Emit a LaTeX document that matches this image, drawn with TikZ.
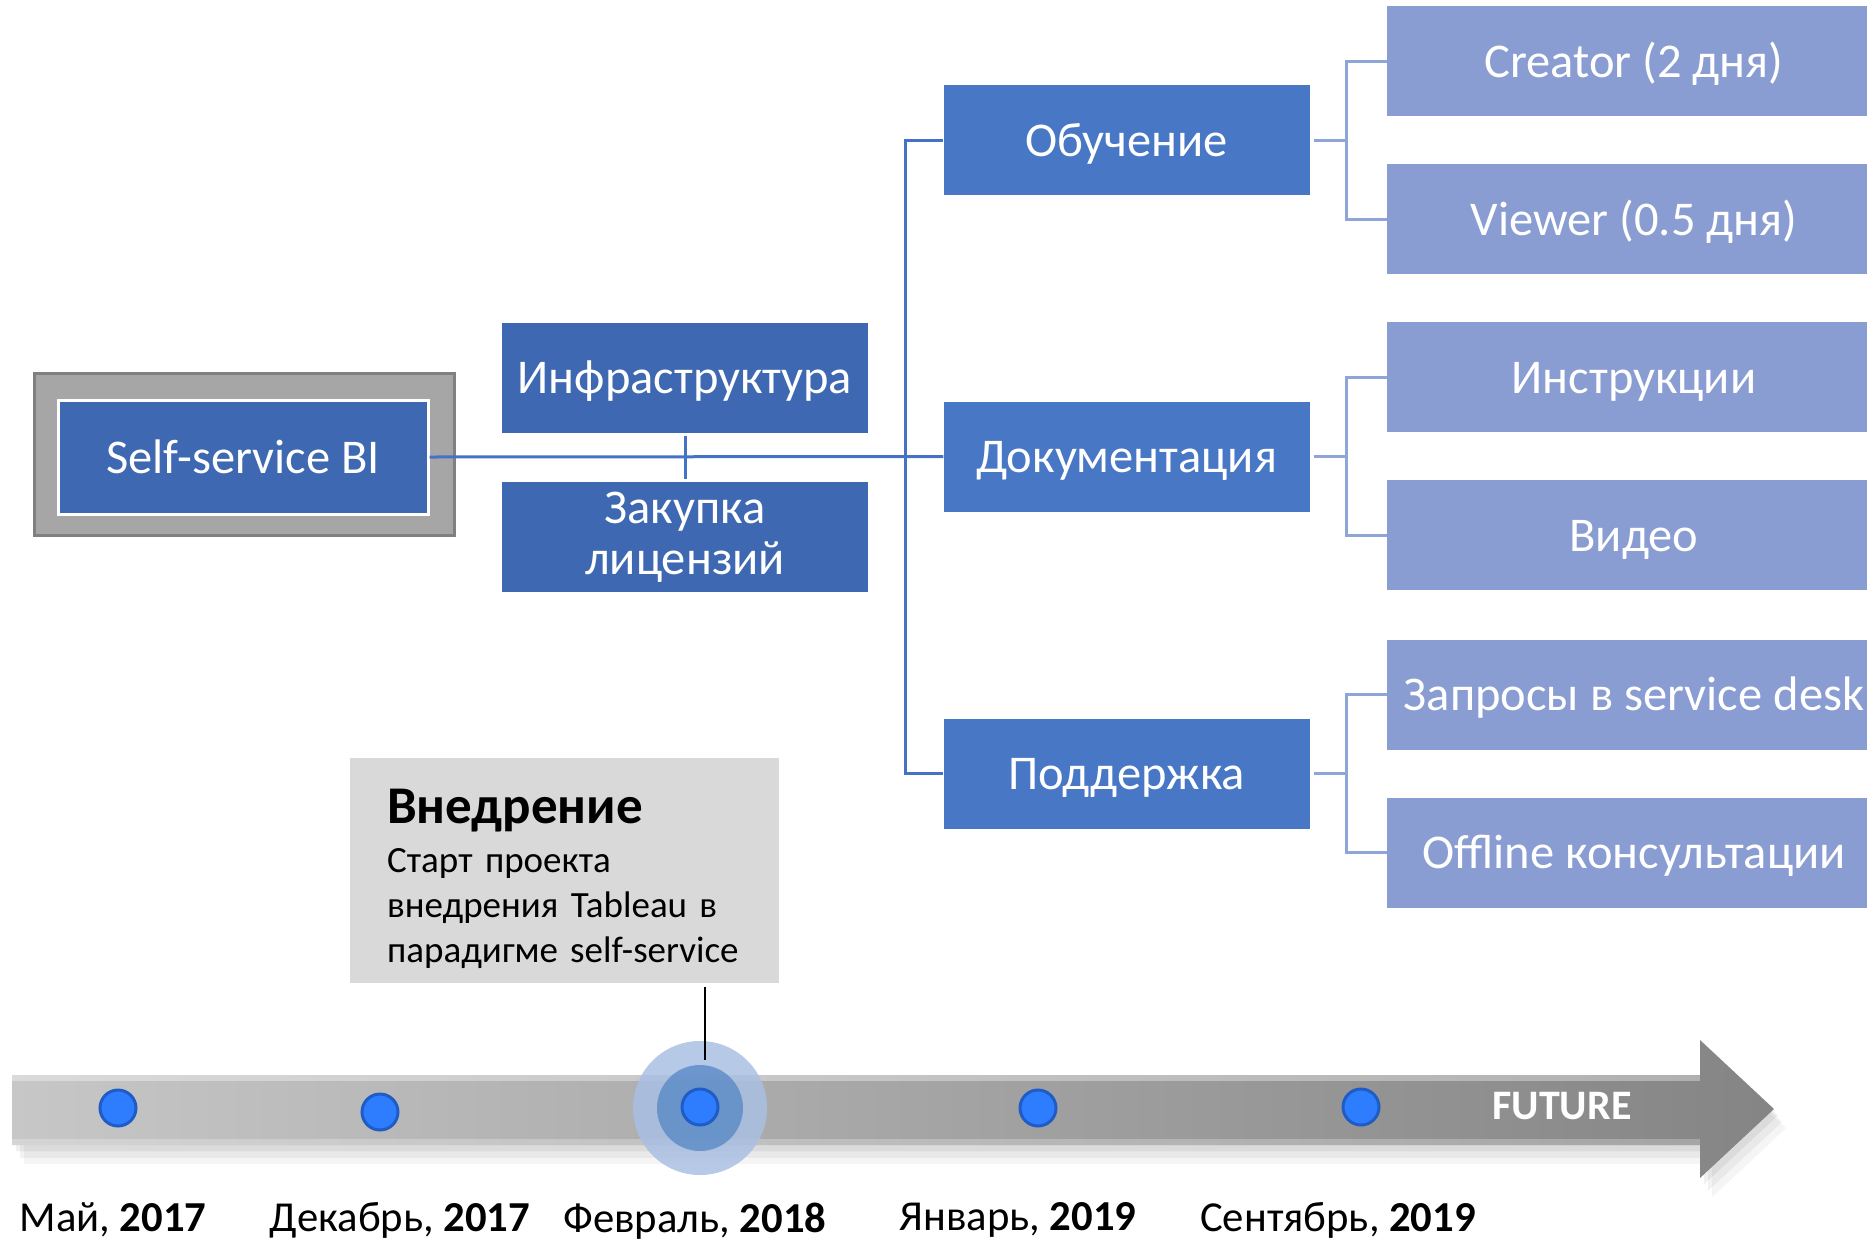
\documentclass[tikz,border=0pt]{standalone}
\usepackage{fontspec}
\setmainfont{Carlito}
\usepackage{tikz}
\usetikzlibrary{calc,positioning}

\definecolor{darkbox}{HTML}{3E68B1}
\definecolor{midbox}{HTML}{4877C5}
\definecolor{leafbox}{HTML}{8A9DD2}
\definecolor{trunkline}{HTML}{4472C4}
\definecolor{leafline}{HTML}{8EA5DA}
\definecolor{dotblue}{HTML}{2F7DFF}
\definecolor{dotring}{HTML}{1F5CC6}
\definecolor{calloutgray}{HTML}{D9D9D9}
\definecolor{haloouter}{HTML}{A9BFE3}
\definecolor{haloinner}{HTML}{5A8AC6}

\begin{document}
\begin{tikzpicture}[x=1pt,y=-1pt,
    dark/.style={fill=darkbox,text=white,minimum width=366pt,minimum height=110pt,inner sep=0pt,align=center,font=\fontsize{48.5}{51}\selectfont},
    oneline/.style={text height=38pt,text depth=6pt},
    mid/.style={fill=midbox,text=white,minimum width=366pt,minimum height=110pt,inner sep=0pt,oneline,font=\fontsize{48.5}{56}\selectfont},
    leaf/.style={fill=leafbox,text=white,minimum width=494pt,minimum height=110pt,inner sep=0pt,oneline,font=\fontsize{48.5}{56}\selectfont},
    link/.style={trunkline,line width=3pt},
    leaflink/.style={leafline,line width=3pt},
    dot/.style={circle,fill=dotblue,draw=dotring,line width=3pt,minimum size=36pt,inner sep=0pt},
    date/.style={font=\fontsize{42.7}{50}\selectfont}]
            \useasboundingbox (0,0) rectangle (1867,1242);
            \node[fill=black!35,draw=black!50,line width=3pt,minimum width=420pt,minimum height=162pt] (frame) at (244,454) {};
            \node[dark,oneline,draw=white,line width=3pt,minimum width=370pt,minimum height=114pt] (self) at (243,457) {Self-service BI};
            \node[dark,oneline] (infra) at (685,377.5) {Инфраструктура};
            \node[dark] (zakup) at (685,537) {Закупка\\лицензий};
            \node[mid] (obuch) at (1126.5,140) {Обучение};
            \node[mid] (dok) at (1126.5,456.5) {Документация};
            \node[mid] (podd) at (1126.5,773.5) {Поддержка};
            \node[leaf] (creator) at (1634,61) {Creator (2 дня)};
            \node[leaf] (viewer) at (1634,219) {Viewer (0.5 дня)};
            \node[leaf] (instr) at (1634,377) {Инструкции};
            \node[leaf] (video) at (1634,535) {Видео};
            \node[leaf] (zapros) at (1634,694.5) {Запросы в service desk};
            \node[leaf] (offline) at (1634,852.5) {Offline консультации};
            \draw[link] (self.east) -- (dok.west);
            \draw[link,shorten <=3pt,shorten >=3pt] (infra.south) -- (zakup.north);
            \draw[link] (obuch.west) -- ++(-38,0) |- (podd.west);
            \foreach \m/\a/\b in {obuch/creator/viewer,dok/instr/video,podd/zapros/offline}{
                \draw[leaflink] ([xshift=4pt]\m.east) -- ++(34,0);
                \draw[leaflink] (\a.west) -- ++(-40,0) |- (\b.west);
            }
            \foreach \d/\o in {12/.04,8/.05,4/.06}
                \fill[black,opacity=\o] (12+\d,1075+1.6*\d) -- (1700+\d,1075+1.6*\d) -- (1700+\d,1040+1.6*\d) -- (1774+\d,1109+1.6*\d) -- (1700+\d,1178+1.6*\d) -- (1700+\d,1145+1.6*\d) -- (12+\d,1145+1.6*\d) -- cycle;
            \shade[left color=black!22,right color=black!48] (12,1075) -- (1700,1075) -- (1700,1040) -- (1774,1109) -- (1700,1178) -- (1700,1145) -- (12,1145) -- cycle;
            \fill[white,opacity=.35] (12,1075) rectangle (1700,1081);
            \fill[white,opacity=.25] (12,1139) rectangle (1700,1145);
            \node[text=white,font=\fontsize{42}{50}\selectfont\bfseries] (future) at (1562,1106) {FUTURE};
            \fill[haloouter,opacity=.85] (700,1108) circle (67);
            \fill[haloinner,opacity=.8] (700,1108) circle (43);
            \node[dot] (d1) at (118,1108) {};
            \node[dot] (d2) at (380,1112) {};
            \node[dot] (d3) at (700,1107) {};
            \node[dot] (d4) at (1038,1108) {};
            \node[dot] (d5) at (1361,1107) {};
            \node[date] (t1) at (113,1220) {Май, \textbf{2017}};
            \node[date] (t2) at (400,1220) {Декабрь, \textbf{2017}};
            \node[date] (t3) at (695,1221) {Февраль, \textbf{2018}};
            \node[date] (t4) at (1018,1220) {Январь, \textbf{2019}};
            \node[date] (t5) at (1338,1220) {Сентябрь, \textbf{2019}};
            \node[fill=calloutgray,anchor=north west,minimum width=429pt,minimum height=225pt,text width=355pt,inner xsep=37pt,align=left,font=\fontsize{37}{45}\selectfont] (impl) at (350,758)
                {{\fontsize{53}{56}\selectfont\bfseries\rule{0pt}{50pt}Внедрение}\\[4pt]
                 Старт проекта\\внедрения Tableau в\\парадигме self-service};
            \coordinate (tick) at (705,1060);
            \draw[line width=2pt] (impl.south -| tick) ++(0,4) -- (tick);
        \end{tikzpicture}
\end{document}
